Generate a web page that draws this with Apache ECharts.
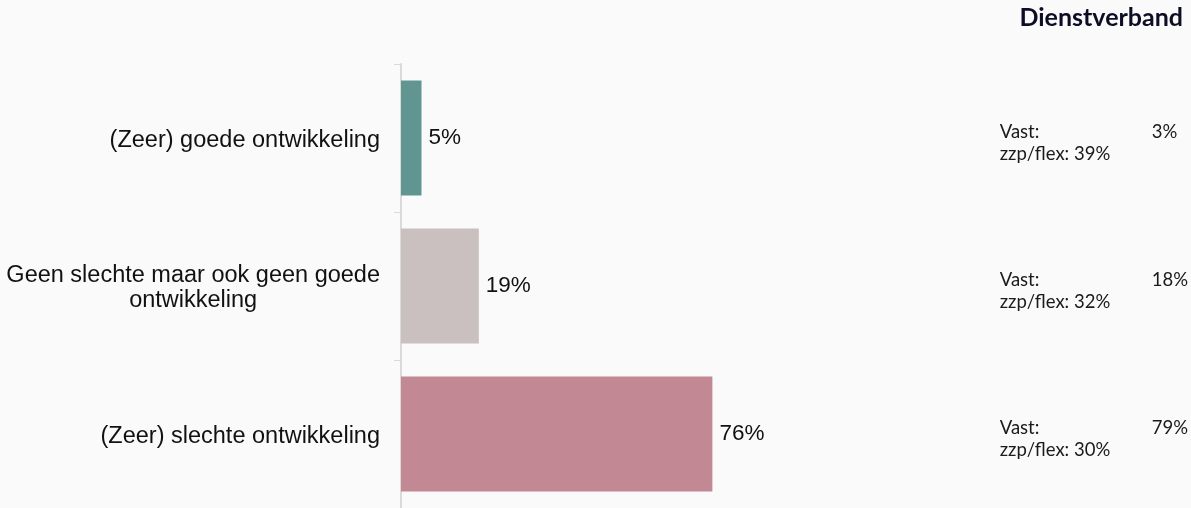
<!DOCTYPE html>
<html>
<head>
<meta charset="utf-8">
<script src="https://cdn.jsdelivr.net/npm/echarts@6/dist/echarts.min.js"></script>
<style>
  html, body { margin: 0; padding: 0; background: #fafafa; }
  #chart { width: 1191px; height: 508px; }
</style>
</head>
<body>
<div id="chart"></div>
<script>
// Answer categories, top to bottom
const categories = [
  '(Zeer) goede ontwikkeling',
  'Geen slechte maar ook geen goede\nontwikkeling',
  '(Zeer) slechte ontwikkeling'
];
// Share of all respondents (%)
const totals = [5, 19, 76];
// Breakdown by employment type (%)
const vastValues = [3, 18, 79];
const flexValues = [39, 32, 30];
const barColors = ['#609592', '#c9c0bf', '#c28893'];

const chart = echarts.init(document.getElementById('chart'), null, { renderer: 'canvas' });

const sideText = { fontFamily: 'Lato', fontSize: 18.5, color: '#1a1a1a', lineHeight: 22 };
const catFont = { fontFamily: 'Liberation Sans', fontSize: 23.5, color: '#111', lineHeight: 25 };

chart.setOption({
  backgroundColor: '#fafafa',
  animation: false,
  title: {
    text: 'Dienstverband',
    right: 3,
    top: 0,
    textStyle: { fontFamily: 'Lato', fontWeight: 'bold', fontSize: 25, color: '#0d0d26' }
  },
  grid: { left: 401, top: 64, width: 410, height: 447, containLabel: false },
  xAxis: {
    type: 'value',
    min: 0,
    max: 100,
    show: false
  },
  yAxis: [
    {
      type: 'category',
      data: categories,
      inverse: true,
      axisLine: { show: true, lineStyle: { color: '#dadada', width: 2 } },
      axisTick: { show: true, length: 7, lineStyle: { color: '#dadada', width: 1 } },
      axisLabel: Object.assign({
        margin: 21,
        padding: [5, 0, 0, 0],
        formatter: v => '{c|' + v.split('\n').join('}\n{c|') + '}',
        rich: { c: Object.assign({ align: 'center' }, catFont) }
      }, catFont),
      splitLine: { show: false }
    },
    {
      type: 'category',
      data: categories,
      inverse: true,
      position: 'right',
      axisLine: { show: false },
      axisTick: { show: false },
      axisLabel: {
        margin: 189,
        align: 'left',
        padding: [10, 0, 0, 0],
        formatter: (v, i) =>
          '{k|Vast:}{v|' + vastValues[i] + '%}\n{t|zzp/flex: ' + flexValues[i] + '%}',
        rich: {
          k: Object.assign({ width: 152 }, sideText),
          v: sideText,
          t: sideText
        }
      }
    }
  ],
  series: [
    {
      type: 'bar',
      yAxisIndex: 0,
      data: totals.map((v, i) => ({ value: v, itemStyle: { color: barColors[i] } })),
      barWidth: 115,
      label: {
        show: true,
        position: 'right',
        distance: 7,
        formatter: p => p.value + '%',
        fontFamily: 'Liberation Sans',
        fontSize: 22.5,
        color: '#111'
      }
    }
  ]
});
</script>
</body>
</html>
